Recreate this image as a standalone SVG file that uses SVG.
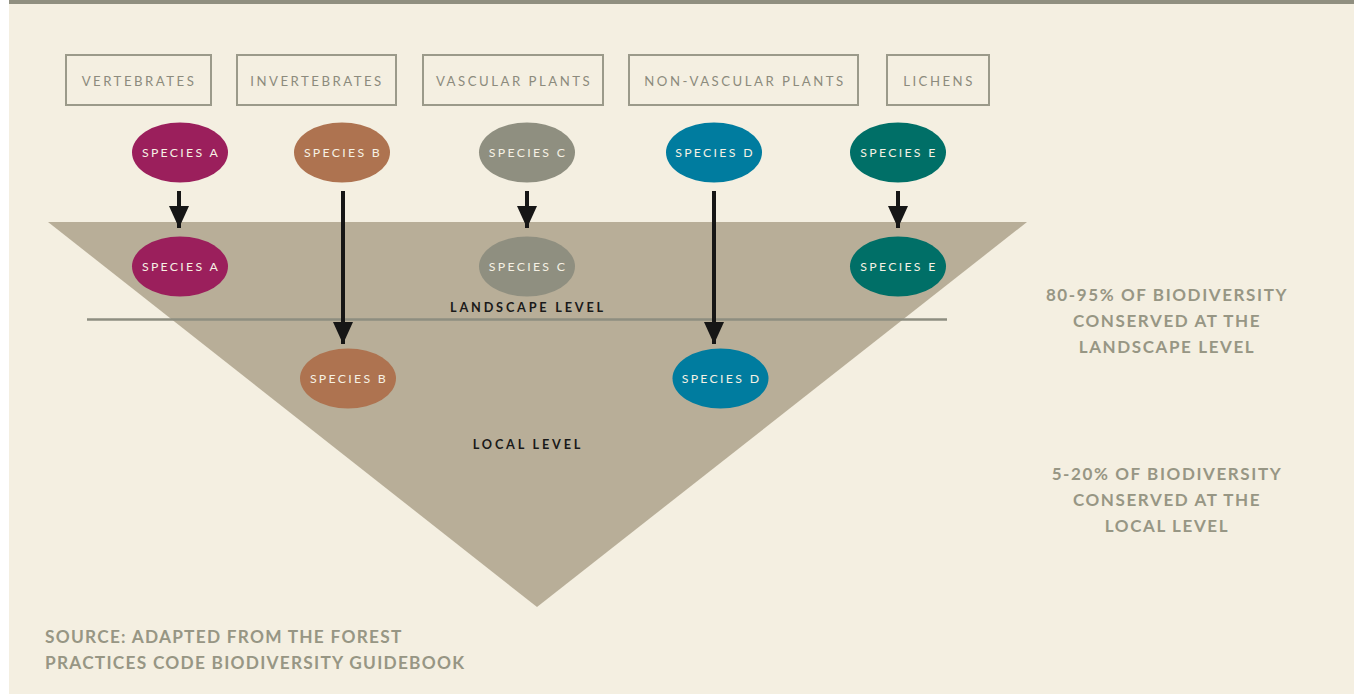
<svg xmlns="http://www.w3.org/2000/svg" width="1354" height="694" viewBox="0 0 1354 694">
<defs>
<style>
.box{fill:none;stroke:#9B9A8A;stroke-width:2}
.bt{font-family:Lato,"Liberation Sans",sans-serif;font-size:13.2px;letter-spacing:2.5px;fill:#8C8B7D;text-anchor:middle}
.st{font-family:Lato,"Liberation Sans",sans-serif;font-size:12.3px;letter-spacing:2.3px;fill:#F6F1E4;text-anchor:middle}
.lv{font-family:Lato,"Liberation Sans",sans-serif;font-size:12.7px;font-weight:bold;letter-spacing:2.8px;fill:#1A1A1A;text-anchor:middle}
.rt{font-family:Lato,"Liberation Sans",sans-serif;font-size:17px;font-weight:bold;letter-spacing:1.6px;fill:#979684;text-anchor:middle}
.src{font-family:Lato,"Liberation Sans",sans-serif;font-size:17.3px;font-weight:bold;letter-spacing:1.25px;fill:#979684}
.con{stroke:#161616;stroke-width:4;fill:none}
</style>
<marker id="ah" viewBox="0 0 22 20" refX="22" refY="10" markerWidth="22" markerHeight="20" markerUnits="userSpaceOnUse" orient="auto">
<path d="M0,0 L22,10 L0,20 Z" fill="#161616"/>
</marker>
</defs>
<rect x="0" y="0" width="1354" height="694" fill="#FFFFFF"/>
<rect x="9" y="0" width="1345" height="694" fill="#F4EFE1"/>
<rect x="9" y="0" width="1345" height="4" fill="#908F80"/>

<polygon points="48,222 1027,222 537,607" fill="#B8AE98"/>
<line x1="87" y1="319.5" x2="947" y2="319.5" stroke="#8E8E80" stroke-width="2.5"/>
<text class="lv" x="528" y="312">LANDSCAPE LEVEL</text>
<text class="lv" x="528" y="449">LOCAL LEVEL</text>

<g id="box-vertebrates"><rect class="box" x="66" y="55" width="145" height="50"/><text class="bt" x="139" y="86">VERTEBRATES</text></g>
<g id="box-invertebrates"><rect class="box" x="237" y="55" width="159" height="50"/><text class="bt" x="317" y="86">INVERTEBRATES</text></g>
<g id="box-vascular"><rect class="box" x="423" y="55" width="180" height="50"/><text class="bt" x="514" y="86">VASCULAR PLANTS</text></g>
<g id="box-nonvascular"><rect class="box" x="629" y="55" width="229" height="50"/><text class="bt" x="745" y="86">NON-VASCULAR PLANTS</text></g>
<g id="box-lichens"><rect class="box" x="887" y="55" width="102" height="50"/><text class="bt" x="939" y="86">LICHENS</text></g>

<g id="connectors">
<line class="con" x1="179" y1="191" x2="179" y2="228" marker-end="url(#ah)"/>
<line class="con" x1="343" y1="191" x2="343" y2="344" marker-end="url(#ah)"/>
<line class="con" x1="527" y1="191" x2="527" y2="228" marker-end="url(#ah)"/>
<line class="con" x1="714" y1="191" x2="714" y2="344" marker-end="url(#ah)"/>
<line class="con" x1="898" y1="191" x2="898" y2="228" marker-end="url(#ah)"/>
</g>

<g id="species-a-top"><ellipse cx="180" cy="152.5" rx="48" ry="30" fill="#9B1F5C"/><text class="st" x="181" y="157">SPECIES A</text></g>
<g id="species-b-top"><ellipse cx="342" cy="152.5" rx="48" ry="30" fill="#AE7350"/><text class="st" x="343" y="157">SPECIES B</text></g>
<g id="species-c-top"><ellipse cx="527" cy="152.5" rx="48" ry="30" fill="#8F8F80"/><text class="st" x="528" y="157">SPECIES C</text></g>
<g id="species-d-top"><ellipse cx="714" cy="152.5" rx="48" ry="30" fill="#007C9F"/><text class="st" x="715" y="157">SPECIES D</text></g>
<g id="species-e-top"><ellipse cx="898" cy="152.5" rx="48" ry="30" fill="#006F67"/><text class="st" x="899" y="157">SPECIES E</text></g>

<g id="species-a-land"><ellipse cx="180" cy="266.5" rx="48" ry="30" fill="#9B1F5C"/><text class="st" x="181" y="271">SPECIES A</text></g>
<g id="species-c-land"><ellipse cx="527" cy="266.5" rx="48" ry="30" fill="#8F8F80"/><text class="st" x="528" y="271">SPECIES C</text></g>
<g id="species-e-land"><ellipse cx="898" cy="266.5" rx="48" ry="30" fill="#006F67"/><text class="st" x="899" y="271">SPECIES E</text></g>

<g id="species-b-local"><ellipse cx="348" cy="378.5" rx="48" ry="30" fill="#AE7350"/><text class="st" x="349" y="383">SPECIES B</text></g>
<g id="species-d-local"><ellipse cx="720.5" cy="378.5" rx="48" ry="30" fill="#007C9F"/><text class="st" x="721.5" y="383">SPECIES D</text></g>

<g id="note-landscape">
<text class="rt" x="1167" y="300.5">80-95% OF BIODIVERSITY</text>
<text class="rt" x="1167" y="326.5">CONSERVED AT THE</text>
<text class="rt" x="1167" y="352.5">LANDSCAPE LEVEL</text>
</g>
<g id="note-local">
<text class="rt" x="1167" y="479.5">5-20% OF BIODIVERSITY</text>
<text class="rt" x="1167" y="505.5">CONSERVED AT THE</text>
<text class="rt" x="1167" y="531.5">LOCAL LEVEL</text>
</g>
<g id="source">
<text class="src" x="45" y="643">SOURCE: ADAPTED FROM THE FOREST</text>
<text class="src" x="45" y="669">PRACTICES CODE BIODIVERSITY GUIDEBOOK</text>
</g>
</svg>
